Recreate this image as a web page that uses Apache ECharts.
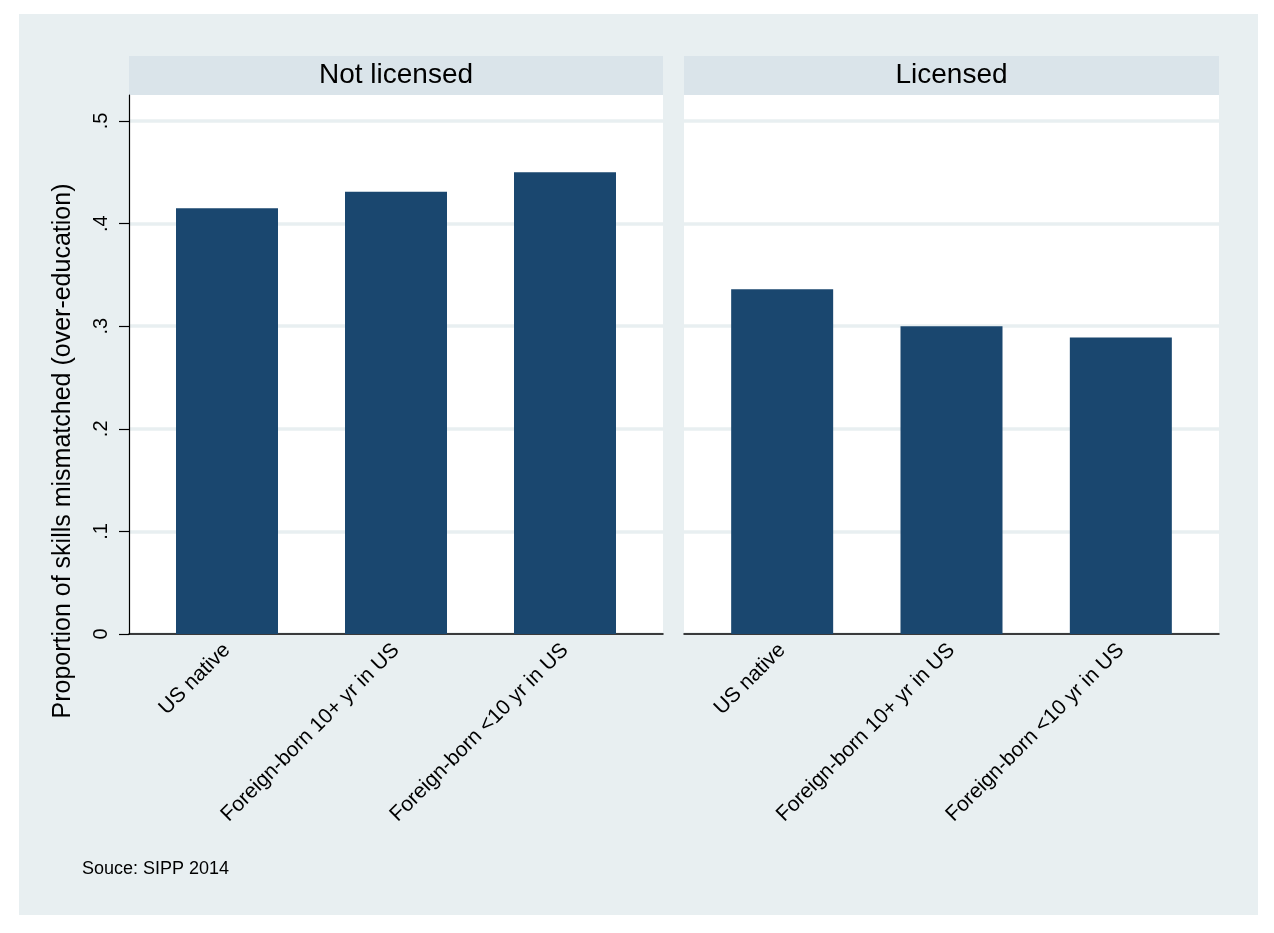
<!DOCTYPE html>
<html><head><meta charset="utf-8">
<script src="https://cdn.jsdelivr.net/npm/echarts@6/dist/echarts.min.js"></script>
<style>
html,body{margin:0;padding:0;background:#ffffff;}
#wrap{position:relative;width:1274px;height:933px;}
#panel{position:absolute;left:19px;top:14px;width:1239px;height:901px;background:#e8eff1;}
#chart{position:absolute;left:0;top:0;width:1274px;height:933px;}
</style></head>
<body><div id="wrap"><div id="panel"></div><div id="chart"></div></div>
<script>
const categories = ['US native', 'Foreign-born 10+ yr in US', 'Foreign-born <10 yr in US'];
const panels = ['Not licensed', 'Licensed'];
const notLicensed = [0.415, 0.431, 0.450];
const licensed = [0.336, 0.300, 0.289];
const yTicks = [0, 0.1, 0.2, 0.3, 0.4, 0.5];
const yTitle = 'Proportion of skills mismatched (over-education)';
const note = 'Souce: SIPP 2014';

const FONT = 'Liberation Sans, Arial, Helvetica, sans-serif';
const BAR = '#1a476f';
const GRIDLINE = '#e8eff1';
const HEADER = '#dae4ea';
const W = 1274, H = 933;
const boxTop = 95, axisTop = 121, plotBottom = H - 634;
const pl = [{l:129, r:663}, {l:684, r:1219}];
const inset = 13.5;
const yMin = yTicks[0], yMax = yTicks[yTicks.length - 1];

const fmt = v => v === 0 ? '0' : ('' + v.toFixed(1)).replace(/^0/, '');

const grids = [], xAxes = [], yAxes = [], series = [];
const dataSets = [notLicensed, licensed];
pl.forEach((p, i) => {
  const bg = i * 3, ax = i * 3 + 1, bar = i * 3 + 2;
  // white box (full height)
  grids.push({left: p.l, right: W - p.r, top: boxTop, bottom: plotBottom, show: true, backgroundColor: '#ffffff', borderWidth: 0});
  // axis grid (gridlines + ticks)
  grids.push({left: p.l, right: W - p.r, top: axisTop, bottom: plotBottom});
  // bar grid
  grids.push({left: p.l + inset, right: W - p.r + inset, top: axisTop, bottom: plotBottom});

  xAxes.push({gridIndex: bg, type: 'value', min: 0, max: 1, axisLine: {show: true, onZero: false, lineStyle: {color: '#000', width: 1.5}}, axisTick: {show: false}, axisLabel: {show: false}, splitLine: {show: false}});
  yAxes.push({gridIndex: bg, type: 'value', min: 0, max: 1,
    axisLine: {show: i === 0, lineStyle: {color: '#000', width: 1.2}},
    axisTick: {show: false}, axisLabel: {show: false}, splitLine: {show: false}});

  xAxes.push({gridIndex: ax, type: 'value', min: 0, max: 1, show: false, splitLine: {show: false}});
  yAxes.push({gridIndex: ax, type: 'value', min: yMin, max: yMax, interval: 0.1,
    axisLine: {show: false},
    axisTick: {show: i === 0, length: 10, lineStyle: {color: '#000', width: 1.2}},
    axisLabel: {show: i === 0, rotate: 90, margin: 18, fontSize: 20, color: '#000', fontFamily: FONT, formatter: v => fmt(v)},
    splitLine: {show: true, lineStyle: {color: GRIDLINE, width: 3.5}}});

  xAxes.push({gridIndex: bar, type: 'category', data: categories, boundaryGap: true,
    axisLine: {show: false}, axisTick: {show: false},
    axisLabel: {rotate: 45, margin: 13, fontSize: 21, color: '#000', fontFamily: FONT, interval: 0}});
  yAxes.push({gridIndex: bar, type: 'value', min: yMin, max: yMax, interval: 0.1, show: false, splitLine: {show: false}});
  series.push({type: 'bar', xAxisIndex: bar, yAxisIndex: bar, data: dataSets[i], barWidth: 102, itemStyle: {color: BAR}, silent: true});
});

const graphic = [];
pl.forEach((p, i) => {
  graphic.push({type: 'rect', shape: {x: p.l, y: 56, width: p.r - p.l, height: 39}, style: {fill: HEADER}});
  graphic.push({type: 'text', x: (p.l + p.r) / 2, y: 75.5, style: {text: panels[i], fill: '#000', font: '28px ' + FONT, textAlign: 'center', textVerticalAlign: 'middle'}});
});
graphic.push({type: 'text', x: 63, y: 451, rotation: Math.PI / 2, style: {text: yTitle, fill: '#000', font: '25px ' + FONT, textAlign: 'center', textVerticalAlign: 'middle'}});
graphic.push({type: 'text', x: 82, y: 869, style: {text: note, fill: '#000', font: '18px ' + FONT, textAlign: 'left', textVerticalAlign: 'middle'}});

const chart = echarts.init(document.getElementById('chart'), null, {renderer: 'canvas'});
chart.setOption({
  animation: false,
  backgroundColor: 'transparent',
  grid: grids, xAxis: xAxes, yAxis: yAxes, series: series, graphic: graphic
});
</script></body></html>
